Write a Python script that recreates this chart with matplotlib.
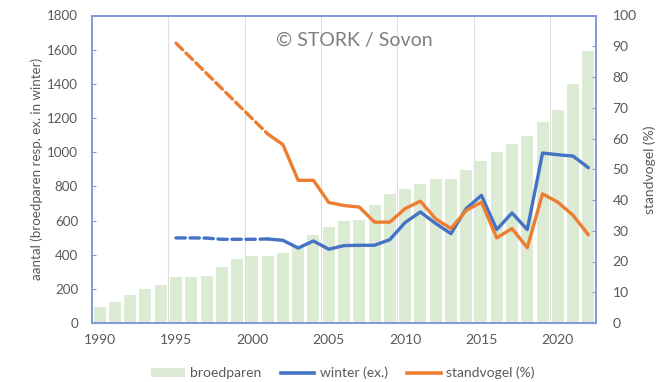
import numpy as np
import matplotlib
matplotlib.use("Agg")
import matplotlib.pyplot as plt
from matplotlib.lines import Line2D
from matplotlib.patches import Patch

plt.rcParams['font.family'] = ['Lato', 'DejaVu Sans']

years = list(range(1990, 2023))

# breeding pairs (left axis)
broedparen = [95, 125, 165, 200, 220, 270, 270, 275, 325, 375, 395, 395, 410,
              445, 515, 560, 600, 605, 690, 755, 785, 815, 845, 845, 895, 950,
              1000, 1045, 1095, 1175, 1245, 1400, 1595]

# wintering birds (left axis); estimated period 1995-2001, counted from 2001
winter_est_years = [1995, 1996, 1997, 1998, 1999, 2000, 2001]
winter_est = [498, 498, 497, 490, 490, 490, 492]
winter_years = list(range(2001, 2023))
winter = [492, 484, 439, 480, 432, 453, 455, 455, 488, 588, 650, 583, 523,
          670, 747, 547, 644, 547, 995, 985, 977, 909]

# share of resident birds in % (right axis); estimated 1995-2001
stand_est_years = [1995, 2001]
stand_est = [91, 61.5]
stand_years = list(range(2001, 2023))
stand = [61.5, 58.0, 46.4, 46.4, 39.2, 38.2, 37.7, 32.8, 32.8, 37.2, 39.6,
         33.9, 30.7, 36.6, 39.3, 27.7, 30.7, 24.5, 42.0, 39.3, 35.0, 28.7]

xtick_labels = ['1990', '1995', '2000', '2005', '2010', '2015', '2020']

BAR_C = '#dcebd3'
BLUE = '#4472c4'
ORANGE = '#ed7d31'
FRAME = '#7f9ad9'
TXT = '#595959'
GRID = '#dedede'

fig = plt.figure(figsize=(6.71, 3.82), dpi=100)
ax = fig.add_axes([92 / 671, 1 - 323 / 382, (596 - 92) / 671, (323 - 15.5) / 382])
ax2 = ax.twinx()

ax.bar(years, broedparen, width=0.78, color=BAR_C, zorder=2)
ax.plot(winter_est_years, winter_est, color=BLUE, lw=2.4, ls=(0, (2.8, 1.4)),
        dash_capstyle='round', zorder=3)
ax.plot(winter_years, winter, color=BLUE, lw=2.4, solid_joinstyle='round',
        solid_capstyle='round', zorder=3)

ax2.plot(stand_est_years, stand_est, color=ORANGE, lw=2.4, ls=(0, (2.8, 1.4)),
         dash_capstyle='round', zorder=3)
ax2.plot(stand_years, stand, color=ORANGE, lw=2.4, solid_joinstyle='round',
         solid_capstyle='round', zorder=3)

ax.set_xlim(1989.5, 2022.5)
ax.set_ylim(0, 1800)
ax2.set_ylim(0, 100)

ax.set_xticks([int(t) for t in xtick_labels])
ax.set_xticklabels(xtick_labels)
ax.set_xticks(np.arange(1994.5, 2022, 5), minor=True)
ax.grid(which='minor', axis='x', color=GRID, lw=0.8, zorder=0)
ax.set_axisbelow(True)
ax.tick_params(axis='x', which='both', length=0, labelsize=10, labelcolor=TXT, pad=8)

ax.set_yticks(np.arange(0, 1801, 200))
ax.tick_params(axis='y', direction='in', length=3, color=FRAME, labelsize=9.6,
               labelcolor=TXT, pad=10)
ax2.set_yticks(np.arange(0, 101, 10))
ax2.tick_params(axis='y', direction='in', length=3, color=FRAME, labelsize=10,
                labelcolor=TXT, pad=12)

for a in (ax, ax2):
    for s in a.spines.values():
        s.set_color(FRAME)
        s.set_linewidth(1.2)

ax.set_ylabel('aantal (broedparen resp. ex. in winter)', color=TXT, fontsize=9.6,
              labelpad=3)
ax2.set_ylabel('standvogel (%)', color=TXT, fontsize=10, labelpad=5)

ax.text(0.52, 0.92, '© STORK / Sovon', transform=ax.transAxes, ha='center',
        va='center', fontsize=14, color='#7f7f7f')

handles = [Patch(facecolor=BAR_C, edgecolor='none'),
           Line2D([], [], color=BLUE, lw=2.6),
           Line2D([], [], color=ORANGE, lw=2.6)]
fig.legend(handles, ['broedparen', 'winter (ex.)', 'standvogel (%)'],
           loc='center', bbox_to_anchor=(343 / 671, 1 - 373 / 382), ncol=3,
           frameon=False, fontsize=10, labelcolor=TXT, handlelength=2.4,
           handleheight=0.6, columnspacing=1.4, handletextpad=0.4)

fig.savefig('out.png', dpi=100, facecolor='white')
